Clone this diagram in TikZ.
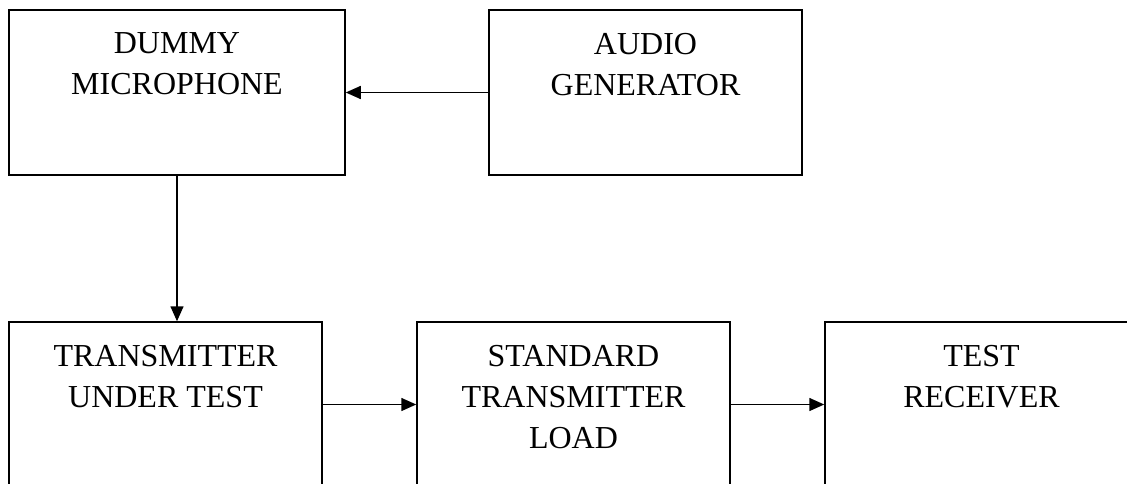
\documentclass[tikz,border=0pt]{standalone}
\usepackage{fontspec}
\setmainfont{Liberation Serif}
\usetikzlibrary{positioning,arrows.meta}

\begin{document}
\begin{tikzpicture}[x=1pt,y=1pt,line width=1.5pt,
  block/.style={draw,rectangle,minimum width=313pt,minimum height=165pt,inner sep=0pt},
  blocktext/.style={inner sep=0pt,align=center,font=\fontsize{32}{41}\selectfont},
  >={Triangle[length=15pt,width=13pt]}]
\clip (0,0) rectangle (1127,-484);
% top row
\node[block,minimum width=336pt] (mic) at (177,-92.5) {};
\node[blocktext,below=23pt of mic.north] (miclbl) {DUMMY\\MICROPHONE};
\node[block] (gen) at (645.5,-92.5) {};
\node[blocktext,below=23pt of gen.north] (genlbl) {AUDIO\\GENERATOR};
% bottom row
\node[block] (tut) at (165.5,-404.5) {};
\node[blocktext,below=23pt of tut.north] (tutlbl) {TRANSMITTER\\UNDER TEST};
\node[block] (load) at (573.5,-404.5) {};
\node[blocktext,below=23pt of load.north] (loadlbl) {STANDARD\\TRANSMITTER\\LOAD};
\node[block] (rx) at (981.5,-404.5) {};
\node[blocktext,below=23pt of rx.north] (rxlbl) {TEST\\RECEIVER};
% connections
\draw[->] (gen.west) -- (mic.east);
\draw[->] (mic.south) -- (mic.south |- tut.north);
\draw[->] (tut.east) -- (load.west);
\draw[->] (load.east) -- (rx.west);
\end{tikzpicture}
\end{document}
